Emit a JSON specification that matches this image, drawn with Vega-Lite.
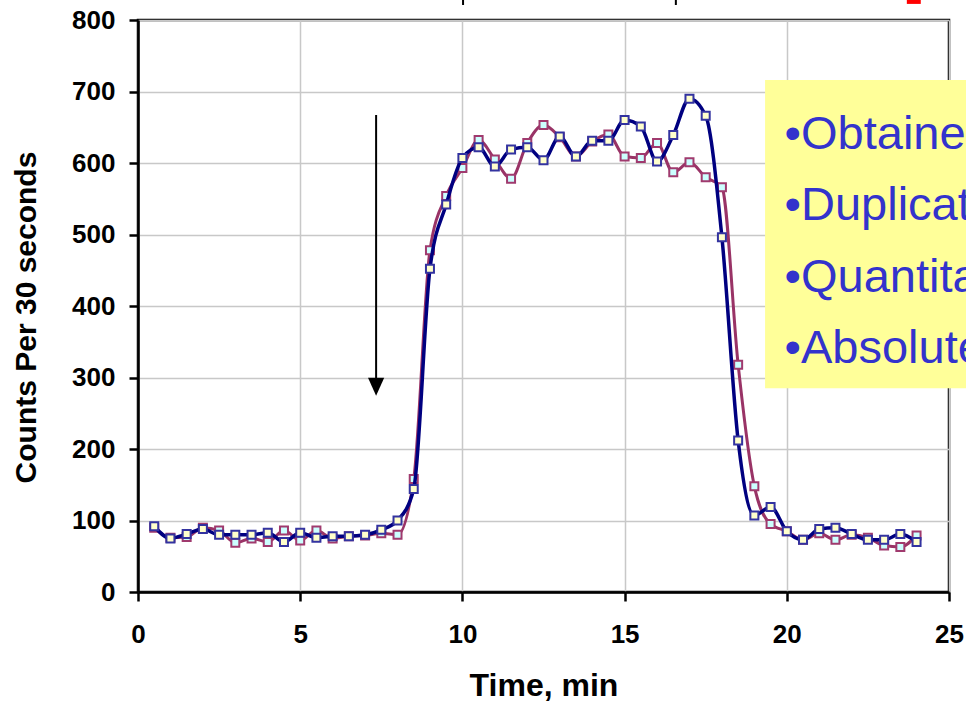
{
  "$schema": "https://vega.github.io/schema/vega-lite/v6.json",
  "width": 811,
  "height": 572,
  "autosize": {"type": "none"},
  "padding": {"left": 138, "top": 20, "right": 17, "bottom": 115},
  "background": "white",
  "config": {
    "view": {"stroke": "black", "strokeWidth": 2.5},
    "font": "Liberation Sans",
    "axis": {
      "domainColor": "black",
      "domainWidth": 2.5,
      "tickColor": "black",
      "tickWidth": 2.5,
      "tickSize": 9,
      "grid": true,
      "gridColor": "#c8c8c8",
      "gridWidth": 1.5,
      "labelFont": "Liberation Sans",
      "labelFontWeight": "bold",
      "labelFontSize": 26,
      "labelColor": "black",
      "labelFlush": false,
      "labelOverlap": false,
      "titleFont": "Liberation Sans",
      "titleFontWeight": "bold",
      "titleColor": "black"
    },
    "axisX": {"labelPadding": 20, "titleFontSize": 32, "titlePadding": 23},
    "axisY": {"labelPadding": 14, "titleFontSize": 30, "titlePadding": 30, "titleY": 297}
  },
  "datasets": {
    "d": [
      {"t": 0.5, "run": "A", "counts": 90}, {"t": 0.5, "run": "B", "counts": 92},
      {"t": 1, "run": "A", "counts": 76}, {"t": 1, "run": "B", "counts": 75},
      {"t": 1.5, "run": "A", "counts": 77}, {"t": 1.5, "run": "B", "counts": 81},
      {"t": 2, "run": "A", "counts": 90}, {"t": 2, "run": "B", "counts": 88},
      {"t": 2.5, "run": "A", "counts": 86}, {"t": 2.5, "run": "B", "counts": 80},
      {"t": 3, "run": "A", "counts": 69}, {"t": 3, "run": "B", "counts": 80},
      {"t": 3.5, "run": "A", "counts": 75}, {"t": 3.5, "run": "B", "counts": 80},
      {"t": 4, "run": "A", "counts": 70}, {"t": 4, "run": "B", "counts": 83},
      {"t": 4.5, "run": "A", "counts": 86}, {"t": 4.5, "run": "B", "counts": 70},
      {"t": 5, "run": "A", "counts": 72}, {"t": 5, "run": "B", "counts": 83},
      {"t": 5.5, "run": "A", "counts": 86}, {"t": 5.5, "run": "B", "counts": 76},
      {"t": 6, "run": "A", "counts": 75}, {"t": 6, "run": "B", "counts": 78},
      {"t": 6.5, "run": "A", "counts": 78}, {"t": 6.5, "run": "B", "counts": 78},
      {"t": 7, "run": "A", "counts": 79}, {"t": 7, "run": "B", "counts": 80},
      {"t": 7.5, "run": "A", "counts": 82}, {"t": 7.5, "run": "B", "counts": 87},
      {"t": 8, "run": "A", "counts": 80}, {"t": 8, "run": "B", "counts": 100},
      {"t": 8.5, "run": "A", "counts": 158}, {"t": 8.5, "run": "B", "counts": 144},
      {"t": 9, "run": "A", "counts": 478}, {"t": 9, "run": "B", "counts": 452},
      {"t": 9.5, "run": "A", "counts": 554}, {"t": 9.5, "run": "B", "counts": 542},
      {"t": 10, "run": "A", "counts": 593}, {"t": 10, "run": "B", "counts": 607},
      {"t": 10.5, "run": "A", "counts": 632}, {"t": 10.5, "run": "B", "counts": 622},
      {"t": 11, "run": "A", "counts": 605}, {"t": 11, "run": "B", "counts": 595},
      {"t": 11.5, "run": "A", "counts": 578}, {"t": 11.5, "run": "B", "counts": 619},
      {"t": 12, "run": "A", "counts": 628}, {"t": 12, "run": "B", "counts": 622},
      {"t": 12.5, "run": "A", "counts": 653}, {"t": 12.5, "run": "B", "counts": 604},
      {"t": 13, "run": "A", "counts": 636}, {"t": 13, "run": "B", "counts": 637},
      {"t": 13.5, "run": "A", "counts": 609}, {"t": 13.5, "run": "B", "counts": 609},
      {"t": 14, "run": "A", "counts": 630}, {"t": 14, "run": "B", "counts": 631},
      {"t": 14.5, "run": "A", "counts": 640}, {"t": 14.5, "run": "B", "counts": 631},
      {"t": 15, "run": "A", "counts": 609}, {"t": 15, "run": "B", "counts": 660},
      {"t": 15.5, "run": "A", "counts": 607}, {"t": 15.5, "run": "B", "counts": 651},
      {"t": 16, "run": "A", "counts": 628}, {"t": 16, "run": "B", "counts": 602},
      {"t": 16.5, "run": "A", "counts": 587}, {"t": 16.5, "run": "B", "counts": 639},
      {"t": 17, "run": "A", "counts": 601}, {"t": 17, "run": "B", "counts": 690},
      {"t": 17.5, "run": "A", "counts": 580}, {"t": 17.5, "run": "B", "counts": 666},
      {"t": 18, "run": "A", "counts": 566}, {"t": 18, "run": "B", "counts": 496},
      {"t": 18.5, "run": "A", "counts": 318}, {"t": 18.5, "run": "B", "counts": 212},
      {"t": 19, "run": "A", "counts": 148}, {"t": 19, "run": "B", "counts": 107},
      {"t": 19.5, "run": "A", "counts": 95}, {"t": 19.5, "run": "B", "counts": 119},
      {"t": 20, "run": "A", "counts": 85}, {"t": 20, "run": "B", "counts": 85},
      {"t": 20.5, "run": "A", "counts": 73}, {"t": 20.5, "run": "B", "counts": 73},
      {"t": 21, "run": "A", "counts": 82}, {"t": 21, "run": "B", "counts": 88},
      {"t": 21.5, "run": "A", "counts": 73}, {"t": 21.5, "run": "B", "counts": 90},
      {"t": 22, "run": "A", "counts": 80}, {"t": 22, "run": "B", "counts": 81},
      {"t": 22.5, "run": "A", "counts": 76}, {"t": 22.5, "run": "B", "counts": 73},
      {"t": 23, "run": "A", "counts": 65}, {"t": 23, "run": "B", "counts": 73},
      {"t": 23.5, "run": "A", "counts": 63}, {"t": 23.5, "run": "B", "counts": 81},
      {"t": 24, "run": "A", "counts": 79}, {"t": 24, "run": "B", "counts": 70}
    ]
  },
  "layer": [
    {
      "data": {"name": "d"},
      "transform": [{"filter": "datum.run == 'A'"}],
      "mark": {"type": "line", "interpolate": "monotone", "color": "#993366", "strokeWidth": 3},
      "encoding": {
        "x": {"field": "t", "type": "quantitative", "title": "Time, min",
              "scale": {"domain": [0, 25], "nice": false, "zero": false},
              "axis": {"values": [0, 5, 10, 15, 20, 25]}},
        "y": {"field": "counts", "type": "quantitative", "title": "Counts Per 30 seconds",
              "scale": {"domain": [0, 800], "nice": false, "zero": false},
              "axis": {"values": [0, 100, 200, 300, 400, 500, 600, 700, 800]}}
      }
    },
    {
      "data": {"values": [{}]},
      "mark": {"type": "rect", "color": "#FFFF99"},
      "encoding": {
        "x": {"datum": 19.33, "type": "quantitative"},
        "x2": {"datum": 27},
        "y": {"datum": 285, "type": "quantitative"},
        "y2": {"datum": 716}
      }
    },
    {
      "data": {"values": [{}]},
      "mark": {"type": "text", "text": "•Obtained", "font": "Liberation Sans", "fontSize": 47, "color": "#3333CC", "align": "left", "baseline": "alphabetic"},
      "encoding": {
        "x": {"datum": 19.93, "type": "quantitative"},
        "y": {"datum": 620, "type": "quantitative"}
      }
    },
    {
      "data": {"values": [{}]},
      "mark": {"type": "text", "text": "•Duplicate", "font": "Liberation Sans", "fontSize": 47, "color": "#3333CC", "align": "left", "baseline": "alphabetic"},
      "encoding": {
        "x": {"datum": 19.93, "type": "quantitative"},
        "y": {"datum": 520, "type": "quantitative"}
      }
    },
    {
      "data": {"values": [{}]},
      "mark": {"type": "text", "text": "•Quantitative", "font": "Liberation Sans", "fontSize": 47, "color": "#3333CC", "align": "left", "baseline": "alphabetic"},
      "encoding": {
        "x": {"datum": 19.93, "type": "quantitative"},
        "y": {"datum": 420, "type": "quantitative"}
      }
    },
    {
      "data": {"values": [{}]},
      "mark": {"type": "text", "text": "•Absolute", "font": "Liberation Sans", "fontSize": 47, "color": "#3333CC", "align": "left", "baseline": "alphabetic"},
      "encoding": {
        "x": {"datum": 19.93, "type": "quantitative"},
        "y": {"datum": 320, "type": "quantitative"}
      }
    },
    {
      "data": {"values": [{}]},
      "mark": {"type": "rule", "color": "black", "strokeWidth": 2},
      "encoding": {
        "x": {"datum": 7.34, "type": "quantitative"},
        "y": {"datum": 667, "type": "quantitative"},
        "y2": {"datum": 295}
      }
    },
    {
      "data": {"values": [{}]},
      "mark": {"type": "point", "shape": "M-0.9,-1L0.9,-1L0,1Z", "filled": true, "color": "black", "size": 324, "opacity": 1},
      "encoding": {
        "x": {"datum": 7.34, "type": "quantitative"},
        "y": {"datum": 287, "type": "quantitative"}
      }
    },
    {
      "data": {"values": [{}]},
      "mark": {"type": "rule", "color": "black", "strokeWidth": 2},
      "encoding": {
        "x": {"datum": 10.02, "type": "quantitative"},
        "y": {"datum": 830, "type": "quantitative"},
        "y2": {"datum": 821}
      }
    },
    {
      "data": {"values": [{}]},
      "mark": {"type": "rule", "color": "black", "strokeWidth": 2},
      "encoding": {
        "x": {"datum": 16.58, "type": "quantitative"},
        "y": {"datum": 830, "type": "quantitative"},
        "y2": {"datum": 821}
      }
    },
    {
      "data": {"values": [{}]},
      "mark": {"type": "rect", "color": "#FF0000"},
      "encoding": {
        "x": {"datum": 23.7, "type": "quantitative"},
        "x2": {"datum": 24.13},
        "y": {"datum": 830, "type": "quantitative"},
        "y2": {"datum": 822.5}
      }
    },
    {
      "data": {"name": "d"},
      "transform": [{"filter": "datum.run == 'A'"}],
      "mark": {"type": "point", "shape": "square", "filled": true, "fill": "#CCFFFF", "stroke": "#A03A6E", "strokeWidth": 2, "size": 64, "opacity": 1},
      "encoding": {
        "x": {"field": "t", "type": "quantitative", "title": "Time, min"},
        "y": {"field": "counts", "type": "quantitative", "title": "Counts Per 30 seconds"}
      }
    },
    {
      "data": {"name": "d"},
      "transform": [{"filter": "datum.run == 'B'"}],
      "mark": {"type": "line", "interpolate": "monotone", "color": "#000080", "strokeWidth": 3.5},
      "encoding": {
        "x": {"field": "t", "type": "quantitative", "title": "Time, min"},
        "y": {"field": "counts", "type": "quantitative", "title": "Counts Per 30 seconds"}
      }
    },
    {
      "data": {"name": "d"},
      "transform": [{"filter": "datum.run == 'B'"}],
      "mark": {"type": "point", "shape": "square", "filled": true, "fill": "#FFFFCC", "stroke": "#3333A0", "strokeWidth": 2, "size": 64, "opacity": 1},
      "encoding": {
        "x": {"field": "t", "type": "quantitative", "title": "Time, min"},
        "y": {"field": "counts", "type": "quantitative", "title": "Counts Per 30 seconds"}
      }
    }
  ]
}
